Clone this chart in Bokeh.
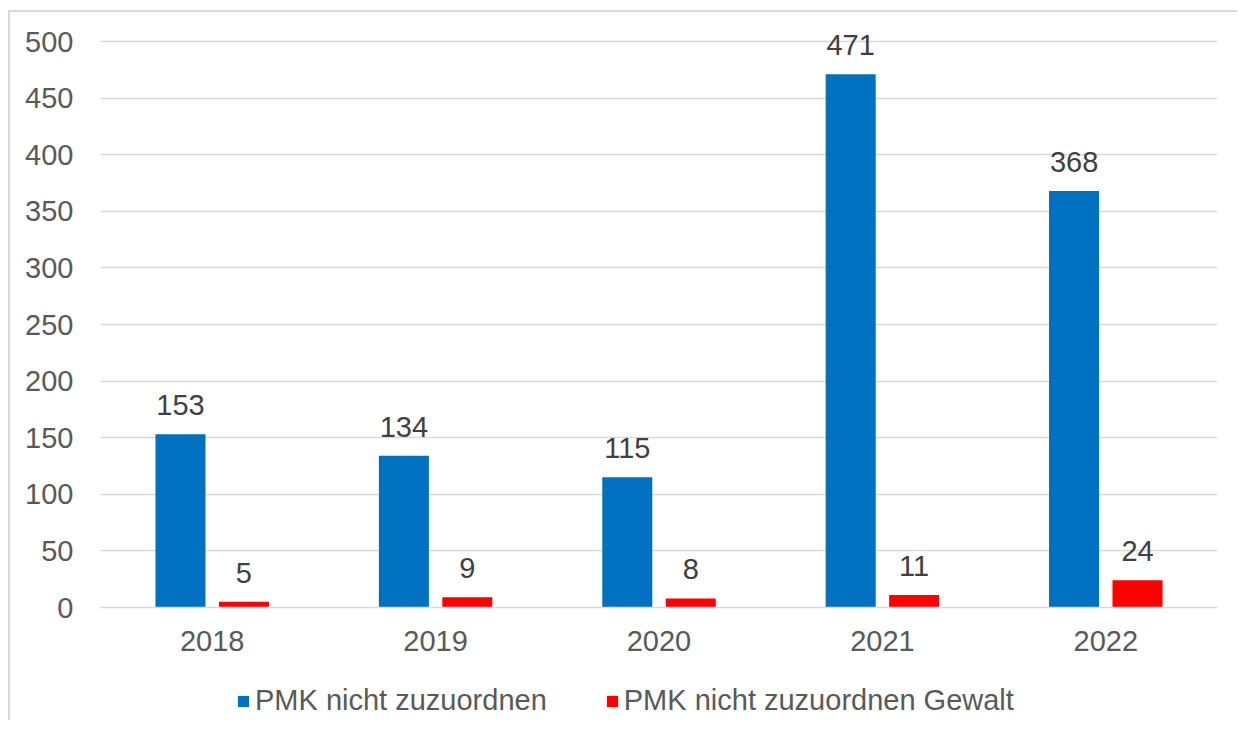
from bokeh.plotting import figure
from bokeh.models import ColumnDataSource, FactorRange, Range1d, FixedTicker, Legend, LegendItem
from bokeh.layouts import column
from bokeh.transform import dodge
from bokeh.core.properties import value
from bokeh.embed import file_html
from bokeh.resources import INLINE

years = ["2018", "2019", "2020", "2021", "2022"]
pmk = [153, 134, 115, 471, 368]
gewalt = [5, 9, 8, 11, 24]
y_ticks = [0, 50, 100, 150, 200, 250, 300, 350, 400, 450, 500]
series_names = ["PMK nicht zuzuordnen", "PMK nicht zuzuordnen Gewalt"]
colors = ["#0070C0", "#FF0000"]

FONT = "Liberation Sans"
FS = "29px"

src = ColumnDataSource(dict(
    year=years, pmk=pmk, gewalt=gewalt,
    pmk_lbl=[str(v) for v in pmk], gewalt_lbl=[str(v) for v in gewalt],
))

# frame spans 593 px; 500 units = 566 px -> headroom above 500 for the data labels
y_top = 500 * 593 / 566
p = figure(x_range=FactorRange(*years), y_range=Range1d(0, y_top),
           width=1227, height=658, output_backend="svg", toolbar_location=None,
           min_border_left=90, min_border_right=20, min_border_top=2, min_border_bottom=63)
p.outline_line_color = None
p.background_fill_color = "white"
p.border_fill_color = "white"

off = 0.142
bw = 0.224
r1 = p.vbar(x=dodge("year", -off, range=p.x_range), top="pmk", width=bw, source=src,
            fill_color=colors[0], line_color=None)
r2 = p.vbar(x=dodge("year", off, range=p.x_range), top="gewalt", width=bw, source=src,
            fill_color=colors[1], line_color=None)

for xo, col, lbl in [(-off, "pmk", "pmk_lbl"), (off, "gewalt", "gewalt_lbl")]:
    p.text(x=dodge("year", xo, range=p.x_range), y=col, text=lbl, source=src,
           text_align="center", text_baseline="alphabetic", y_offset=-29,
           text_font_size=FS, text_color="#404040", text_font=value(FONT))

p.xgrid.grid_line_color = None
p.ygrid.grid_line_color = "#d9d9d9"
p.ygrid.grid_line_width = 1.5
p.yaxis.ticker = FixedTicker(ticks=y_ticks)

for ax in (p.xaxis[0], p.yaxis[0]):
    ax.major_tick_out = 0
    ax.major_tick_in = 0
    ax.minor_tick_out = 0
    ax.minor_tick_in = 0
    ax.major_label_text_font = FONT
    ax.major_label_text_font_size = FS
    ax.major_label_text_color = "#595959"
p.yaxis.axis_line_color = None
p.yaxis.major_label_standoff = 27
p.xaxis.axis_line_color = "#d9d9d9"
p.xaxis.axis_line_width = 1.5
p.xaxis.major_label_standoff = 23

# legend strip
lp = figure(width=1227, height=50, output_backend="svg", toolbar_location=None,
            x_range=Range1d(0, 1), y_range=Range1d(0, 1),
            x_axis_location=None, y_axis_location=None,
            min_border_left=0, min_border_right=0, min_border_top=0, min_border_bottom=0)
lp.grid.grid_line_color = None
lp.outline_line_color = None
lp.background_fill_color = "white"
lp.border_fill_color = "white"
# off-screen legend proxies (only their colours are used by the legend)
d1 = lp.vbar(x=[-1], top=[-1], width=0.1, fill_color=colors[0], line_color=None)
d2 = lp.vbar(x=[-1], top=[-1], width=0.1, fill_color=colors[1], line_color=None)

legend = Legend(items=[LegendItem(label=series_names[0], renderers=[d1]),
                       LegendItem(label=series_names[1], renderers=[d2])],
                location=(136, 3), orientation="horizontal",
                glyph_width=14, glyph_height=14, label_standoff=5, spacing=58,
                padding=0, margin=0, border_line_color=None, background_fill_alpha=0,
                label_text_font=FONT, label_text_font_size=FS, label_text_color="#595959")
lp.add_layout(legend, "center")

layout = column(p, lp, spacing=0,
                styles={"border-left": "2px solid #d9d9d9", "border-top": "2px solid #d9d9d9",
                        "margin-left": "8px", "margin-top": "10px"})

open("out.html", "w").write(file_html(layout, INLINE))
